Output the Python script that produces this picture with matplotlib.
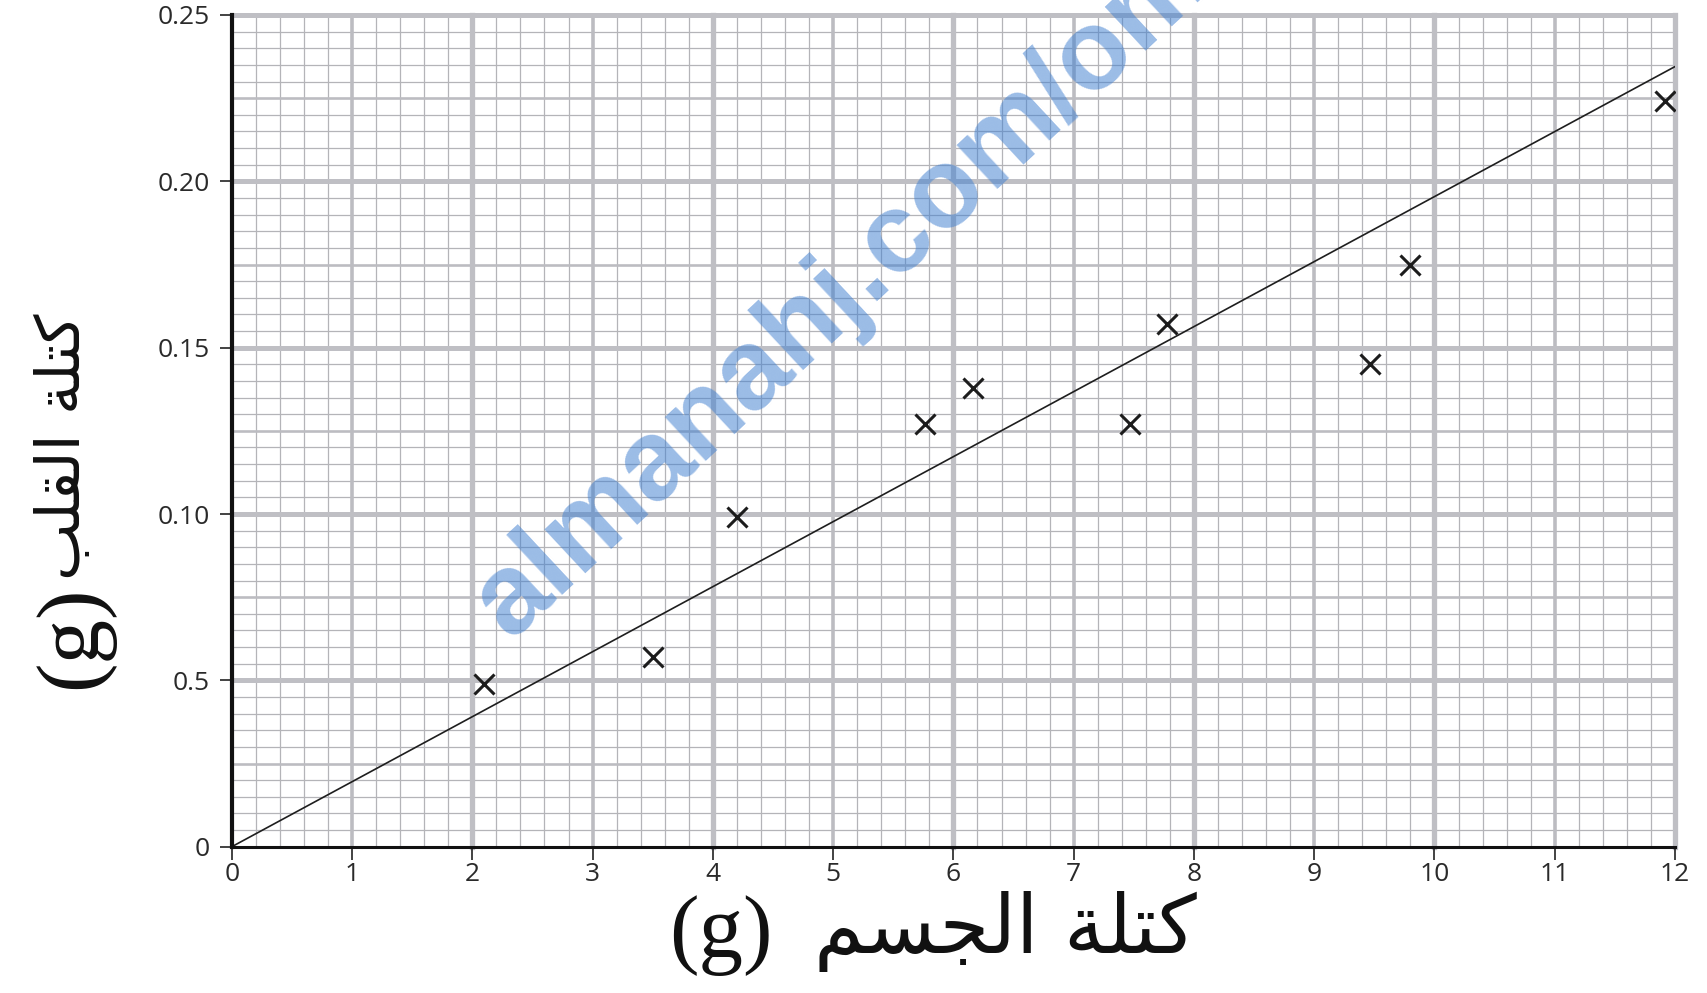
import numpy as np
import matplotlib
matplotlib.use("Agg")
import matplotlib.pyplot as plt

# Measured body mass (g) and heart mass (g)
body_mass = [2.1, 3.5, 4.2, 5.76, 6.16, 7.47, 7.78, 9.46, 9.8, 11.92]
heart_mass = [0.049, 0.057, 0.099, 0.127, 0.138, 0.127, 0.157, 0.145, 0.175, 0.224]

# Best-fit line through the origin
fit_x = [0, 12]
fit_y = [0, 0.2345]

x_ticks = list(range(0, 13))
x_tick_labels = [str(v) for v in x_ticks]
y_ticks = [0, 0.05, 0.10, 0.15, 0.20, 0.25]
y_tick_labels = ["0", "0.5", "0.10", "0.15", "0.20", "0.25"]

# Arabic axis titles, pre-shaped (presentation forms) in visual order
x_title_ar = "\uFEE2\uFEB4\uFEA0\uFEDF\uFE8D \uFE94\uFEE0\uFE98\uFEDB"
y_title_ar = "\uFE90\uFEE0\uFED8\uFEDF\uFE8D \uFE94\uFEE0\uFE98\uFEDB"
unit_label = "(g)"
watermark = "almanahj.com/om"

fig = plt.figure(figsize=(17.08, 9.93), dpi=100)
ax = fig.add_axes([0.1357, 0.1473, 0.845, 0.8376])
ax.set_xlim(0, 12)
ax.set_ylim(0, 0.25)

# Graph-paper grid: minor, medium and major rulings
for xv in np.arange(0.2, 12.01, 0.2):
    if abs(xv - round(xv)) > 1e-6:
        ax.axvline(xv, color="#b4b4b8", lw=0.9, zorder=1)
for yv in np.arange(0.005, 0.2501, 0.005):
    k = round(yv / 0.005)
    if k % 5 != 0:
        ax.axhline(yv, color="#b4b4b8", lw=0.9, zorder=1)
for xv in range(1, 13):
    if xv % 2 == 1:
        ax.axvline(xv, color="#bcbcc1", lw=2.6, zorder=1.2, clip_on=False)
for k in range(1, 11):
    yv = k * 0.025
    if k % 2 == 1:
        ax.axhline(yv, color="#bcbcc1", lw=1.9, zorder=1.2, clip_on=False)
for xv in range(2, 13, 2):
    ax.axvline(xv, color="#bfbfc4", lw=3.8, zorder=1.3, clip_on=False)
for yv in [0.05, 0.10, 0.15, 0.20, 0.25]:
    ax.axhline(yv, color="#bfbfc4", lw=3.6, zorder=1.3, clip_on=False)

ax.plot(fit_x, fit_y, color="#1e1e1e", lw=1.2, zorder=3)
ax.plot(body_mass, heart_mass, ls="none", marker="x", ms=15, mew=2.2,
        color="#1c1c1c", zorder=4)

for side in ["top", "right"]:
    ax.spines[side].set_visible(False)
ax.spines["left"].set_linewidth(3.0)
ax.spines["bottom"].set_linewidth(2.2)
ax.spines["left"].set_color("#111111")
ax.spines["bottom"].set_color("#111111")
ax.spines["left"].set_zorder(5)
ax.spines["bottom"].set_zorder(5)

ax.set_xticks(x_ticks)
ax.set_xticklabels(x_tick_labels)
ax.set_yticks(y_ticks)
ax.set_yticklabels(y_tick_labels)
ax.tick_params(axis="both", direction="out", length=9, width=1.2,
               color="#222222", labelcolor="#2a2a2a", labelsize=19)
ax.tick_params(axis="x", pad=2)
ax.tick_params(axis="y", pad=7)
for lab in ax.get_xticklabels() + ax.get_yticklabels():
    lab.set_family("Open Sans")

# Axis titles: serif unit in brackets next to the Arabic words
fig.text(721 / 1708, 1 - 935 / 993, unit_label, ha="center", va="center",
         fontsize=64, family="Liberation Serif", color="#111111")
fig.text(1005 / 1708, 1 - 932 / 993, x_title_ar, ha="center", va="center",
         fontsize=58, family="DejaVu Sans", color="#111111")
fig.text(74 / 1708, 1 - 637 / 993, unit_label, ha="center", va="center",
         fontsize=64, rotation=90, family="Liberation Serif", color="#111111")
fig.text(64 / 1708, 1 - 447 / 993, y_title_ar, ha="center", va="center",
         fontsize=44, rotation=90, family="DejaVu Sans", color="#111111")

fig.text(0.299, 0.3555, watermark, ha="left", va="baseline",
         rotation=43, rotation_mode="anchor", fontsize=82,
         fontweight="bold", family="Liberation Sans", color="#3f7fd0",
         alpha=0.52, zorder=10)

fig.savefig("out.png", dpi=100)
